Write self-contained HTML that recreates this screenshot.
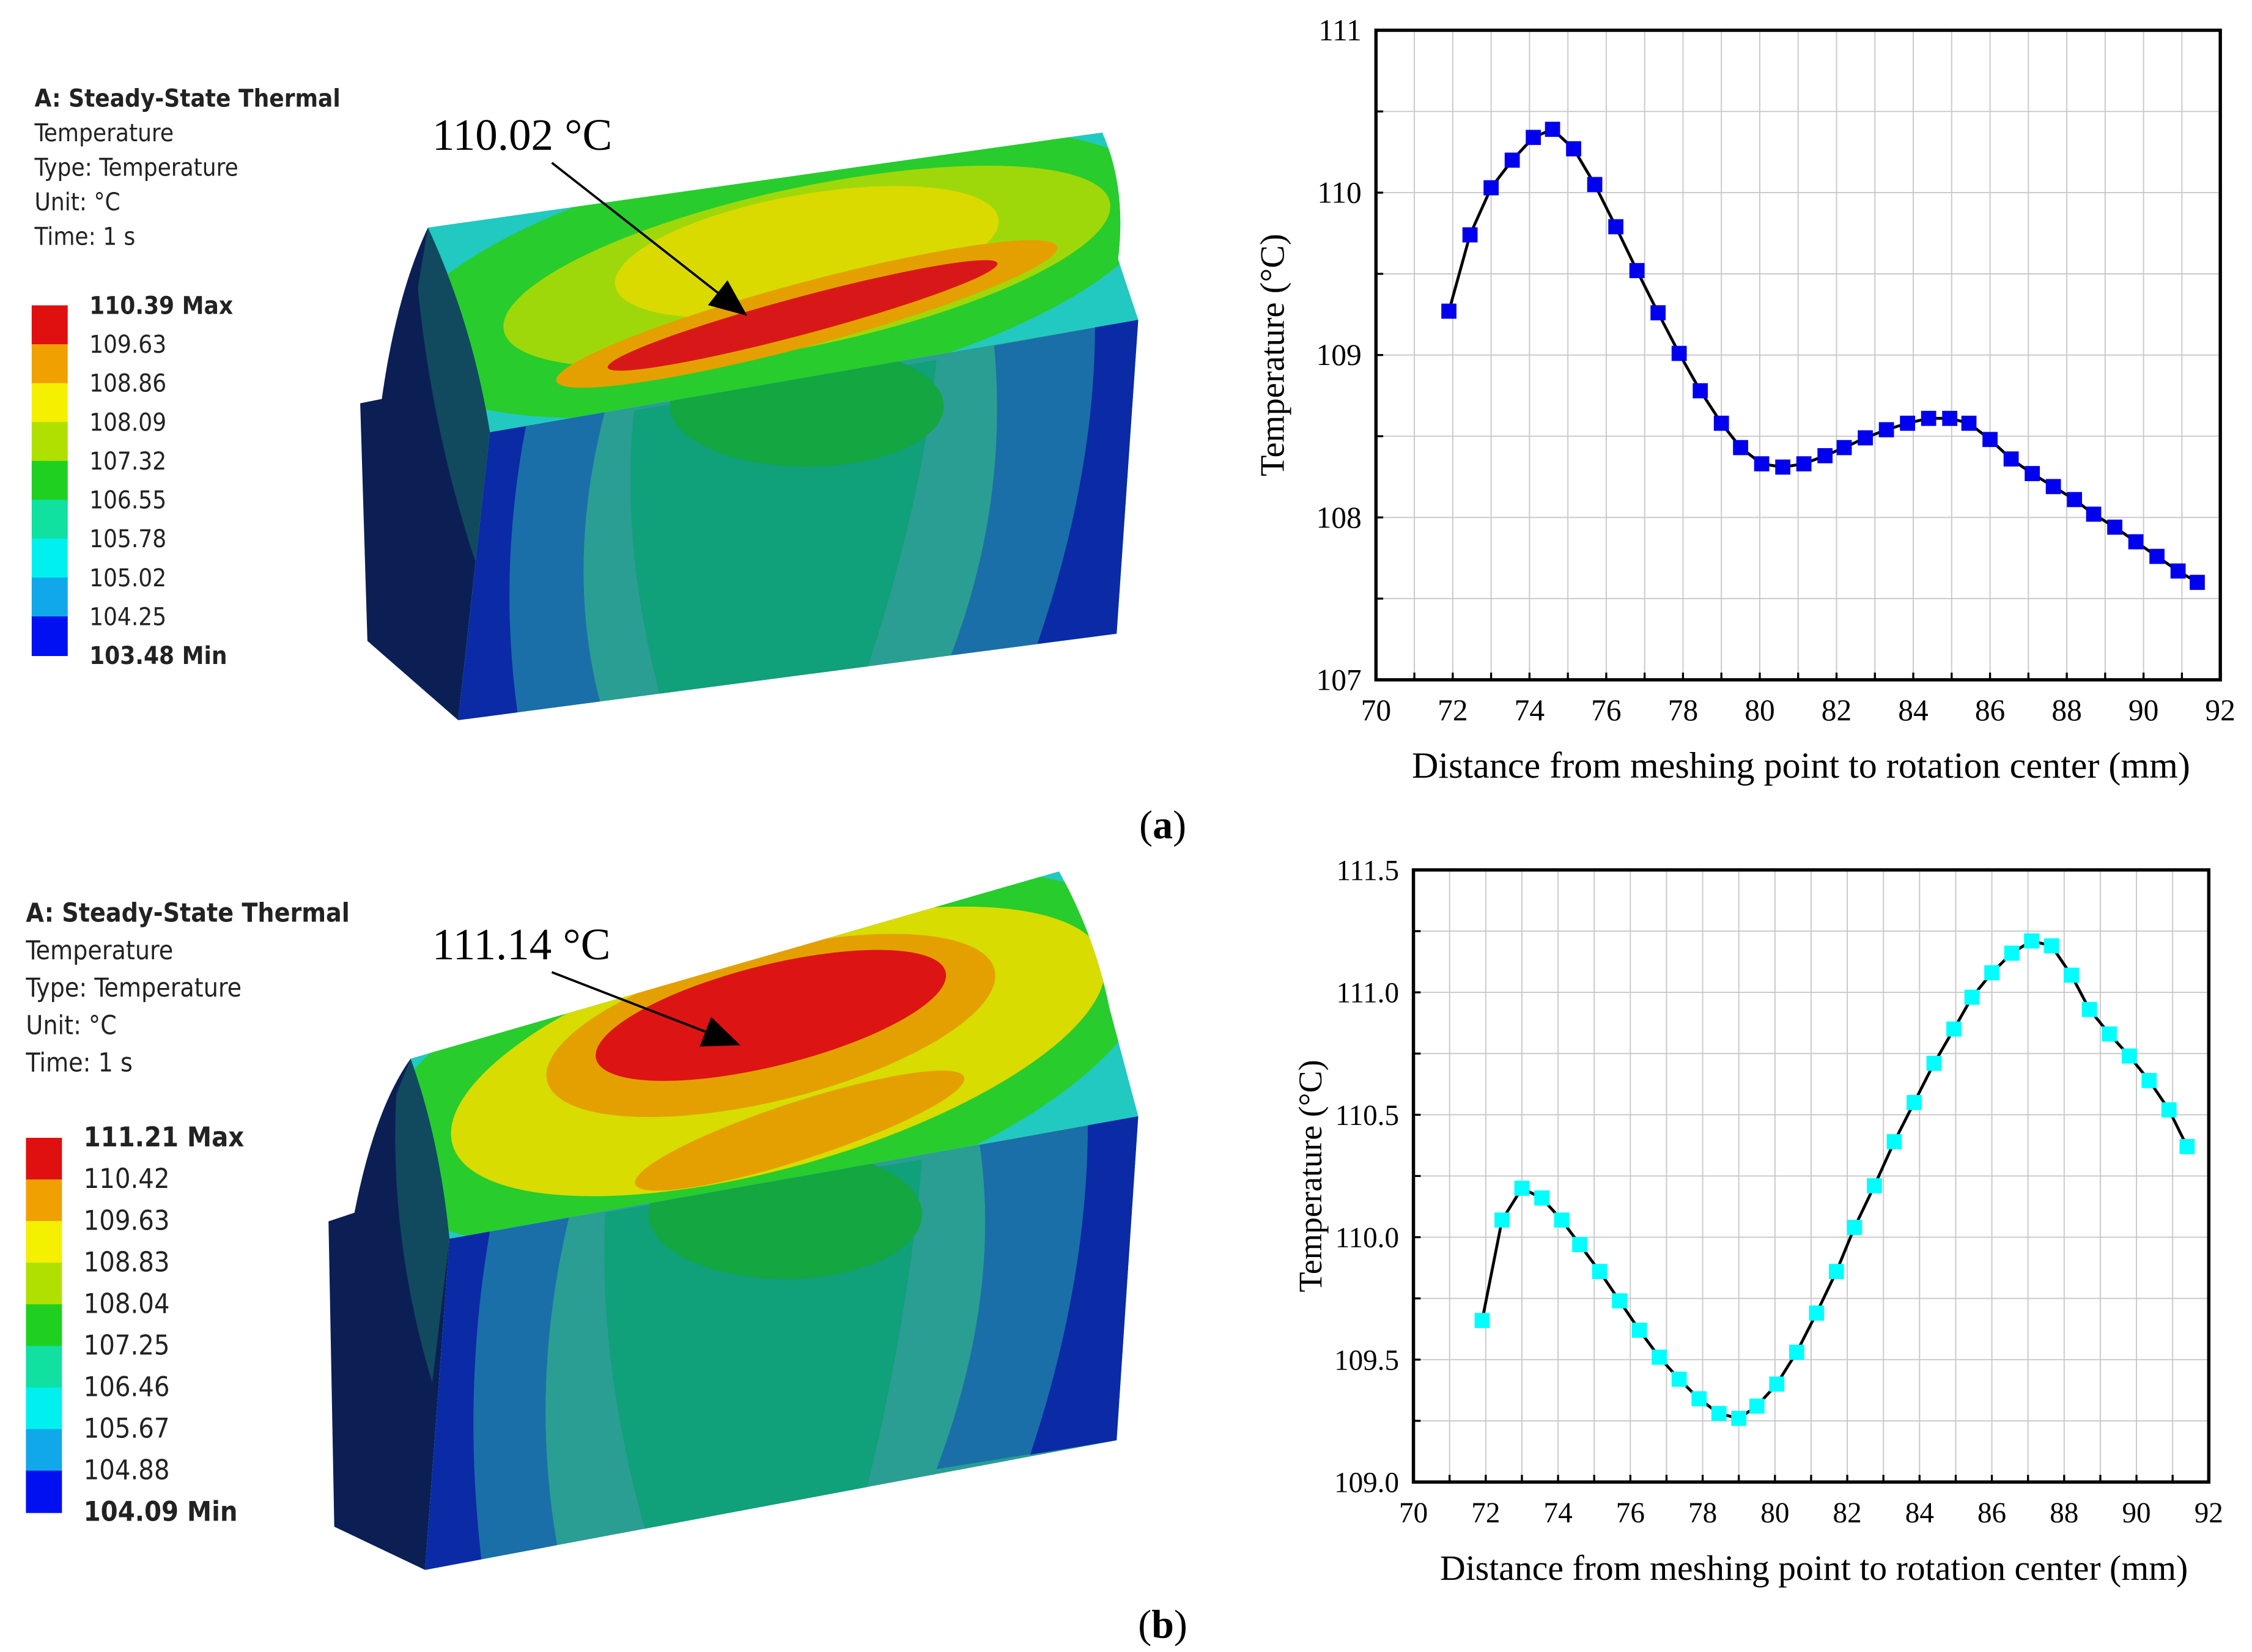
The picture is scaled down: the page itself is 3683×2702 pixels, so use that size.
<!DOCTYPE html>
<html><head><meta charset="utf-8"><style>
html,body{margin:0;padding:0;background:#fff}
svg{display:block}
text{font-family:"Liberation Serif",serif}
.ans{font-family:"DejaVu Sans Condensed","DejaVu Sans","Liberation Sans",sans-serif}
</style></head><body>
<svg id="root" xmlns="http://www.w3.org/2000/svg" width="3683" height="2702" viewBox="0 0 1563 1147" preserveAspectRatio="none">
<defs>
<marker id="ah2" markerWidth="26" markerHeight="22" refX="24" refY="11" orient="auto" markerUnits="userSpaceOnUse"><path d="M0,0 L26,11 L0,22 Z" fill="#000"/></marker>
<clipPath id="topA"><path d="M297,158 L765,92 Q782,130 776,180 L790,222 L340,300 Q328,225 297,158 Z"/></clipPath>
<clipPath id="frontA"><path d="M340,300 L790,222 L775,440 L318,500 Z"/></clipPath>
<clipPath id="topB"><path d="M285,735 L735,605 Q760,650 770,700 L790,775 L312,860 Q305,790 285,735 Z"/></clipPath>
<clipPath id="frontB"><path d="M312,860 L790,775 L775,1000 L295,1090 Z"/></clipPath>
</defs>

<g>
  <path d="M297,158 Q330,225 340,300 L318,500 L255,445 L250,280 L265,277 Q275,205 297,158 Z" fill="#0b1f55"/>
  <path d="M297,158 Q330,225 340,300 L330,390 Q300,300 290,200 Z" fill="#114a5e"/>
  <g clip-path="url(#frontA)">
    <rect x="300" y="200" width="500" height="320" fill="#2a9e93"/>
    <path d="M340,300 L420,285 Q390,400 420,500 L318,500 Z" fill="#1a6fa8"/>
    <path d="M340,300 L365,296 Q345,400 360,500 L318,500 Z" fill="#0b2aa6"/>
    <path d="M440,285 L650,250 Q640,350 600,470 L460,490 Q430,380 440,285 Z" fill="#10a07a"/>
    <path d="M690,240 L790,222 L775,440 L660,455 Q700,350 690,240 Z" fill="#1a6fa8"/>
    <path d="M760,226 L790,222 L775,440 L720,447 Q760,330 760,226 Z" fill="#0b2aa6"/>
    <ellipse cx="560" cy="282" rx="95" ry="42" fill="#14a640"/>
  </g>
  <g clip-path="url(#topA)">
    <rect x="290" y="80" width="510" height="230" fill="#22c9c0"/>
    <ellipse cx="540" cy="190" rx="270" ry="85" transform="rotate(-12 540 190)" fill="#28cc2c"/>
    <ellipse cx="560" cy="185" rx="215" ry="55" transform="rotate(-12 560 185)" fill="#9fd80a"/>
    <ellipse cx="560" cy="175" rx="135" ry="40" transform="rotate(-10 560 175)" fill="#dada00"/>
    <ellipse cx="560" cy="218" rx="180" ry="22" transform="rotate(-15 560 218)" fill="#e4a000"/>
    <ellipse cx="557" cy="219" rx="140" ry="13" transform="rotate(-15 557 219)" fill="#d81818"/>
    <path d="M340,300 L790,222 L790,245 L340,320 Z" fill="#20d0d8"/>
  </g>
</g>
<g>
  <text x="24" y="74" font-size="17" font-weight="bold" class="ans" fill="#222">A: Steady-State Thermal</text>
  <text x="24" y="98" font-size="17" class="ans" fill="#222">Temperature</text>
  <text x="24" y="122" font-size="17" class="ans" fill="#222">Type: Temperature</text>
  <text x="24" y="146" font-size="17" class="ans" fill="#222">Unit: °C</text>
  <text x="24" y="170" font-size="17" class="ans" fill="#222">Time: 1 s</text>
  <g id="cbA"></g>
</g>
<text x="300" y="104" font-size="31">110.02 °C</text>
<line x1="383" y1="113" x2="517" y2="218" stroke="#000" stroke-width="1.6" marker-end="url(#ah2)"/>

<g>
  <path d="M285,735 Q308,790 312,860 L295,1090 L232,1060 L228,848 L246,842 Q260,770 285,735 Z" fill="#0b1f55"/>
  <path d="M285,735 Q308,790 312,860 L300,960 Q270,860 275,760 Z" fill="#114a5e"/>
  <g clip-path="url(#frontB)">
    <rect x="280" y="760" width="520" height="340" fill="#2a9e93"/>
    <path d="M312,860 L395,845 Q365,970 390,1090 L295,1090 Z" fill="#1a6fa8"/>
    <path d="M312,860 L340,855 Q320,970 335,1090 L295,1090 Z" fill="#0b2aa6"/>
    <path d="M420,842 L640,805 Q630,920 600,1040 L450,1070 Q415,950 420,842 Z" fill="#10a07a"/>
    <path d="M680,795 L790,775 L775,1000 L650,1020 Q695,900 680,795 Z" fill="#1a6fa8"/>
    <path d="M755,780 L790,775 L775,1000 L715,1010 Q755,890 755,780 Z" fill="#0b2aa6"/>
    <ellipse cx="545" cy="843" rx="95" ry="45" fill="#14a640"/>
  </g>
  <g clip-path="url(#topB)">
    <rect x="280" y="590" width="520" height="280" fill="#22c9c0"/>
    <ellipse cx="530" cy="735" rx="280" ry="110" transform="rotate(-16 530 735)" fill="#28cc2c"/>
    <ellipse cx="540" cy="730" rx="235" ry="80" transform="rotate(-16 540 730)" fill="#d8dc00"/>
    <ellipse cx="535" cy="712" rx="160" ry="52" transform="rotate(-14 535 712)" fill="#e4a000"/>
    <ellipse cx="535" cy="705" rx="125" ry="35" transform="rotate(-14 535 705)" fill="#dc1414"/>
    <ellipse cx="555" cy="785" rx="120" ry="20" transform="rotate(-18 555 785)" fill="#e4a000"/>
    <path d="M312,860 L790,775 L790,800 L312,885 Z" fill="#20d0d8"/>
  </g>
</g>
<g>
  <text x="18" y="640" font-size="18" font-weight="bold" class="ans" fill="#222">A: Steady-State Thermal</text>
  <text x="18" y="666" font-size="18" class="ans" fill="#222">Temperature</text>
  <text x="18" y="692" font-size="18" class="ans" fill="#222">Type: Temperature</text>
  <text x="18" y="718" font-size="18" class="ans" fill="#222">Unit: °C</text>
  <text x="18" y="744" font-size="18" class="ans" fill="#222">Time: 1 s</text>
  <g id="cbB"></g>
</g>
<text x="300" y="666" font-size="31">111.14 °C</text>
<line x1="383" y1="675" x2="512" y2="725" stroke="#000" stroke-width="1.6" marker-end="url(#ah2)"/>

<text x="807" y="582" font-size="28" text-anchor="middle">(<tspan font-weight="bold">a</tspan>)</text>
<text x="807" y="1137" font-size="28" text-anchor="middle">(<tspan font-weight="bold">b</tspan>)</text>

<g id="chartA"></g>
<g id="chartB"></g>
</svg>
<script>
const NS = "http://www.w3.org/2000/svg";
const xValuesA = [71.9,72.45,73.0,73.55,74.1,74.6,75.15,75.7,76.25,76.8,77.35,77.9,78.45,79.0,79.5,80.05,80.6,81.15,81.7,82.2,82.75,83.3,83.85,84.4,84.95,85.45,86.0,86.55,87.1,87.65,88.2,88.7,89.25,89.8,90.35,90.9,91.4];
const tempA = [109.27,109.74,110.03,110.20,110.34,110.39,110.27,110.05,109.79,109.52,109.26,109.01,108.78,108.58,108.43,108.33,108.31,108.33,108.38,108.43,108.49,108.54,108.58,108.61,108.61,108.58,108.48,108.36,108.27,108.19,108.11,108.02,107.94,107.85,107.76,107.67,107.60];
const xValuesB = [71.9,72.45,73.0,73.55,74.1,74.6,75.15,75.7,76.25,76.8,77.35,77.9,78.45,79.0,79.5,80.05,80.6,81.15,81.7,82.2,82.75,83.3,83.85,84.4,84.95,85.45,86.0,86.55,87.1,87.65,88.2,88.7,89.25,89.8,90.35,90.9,91.4];
const tempB = [109.66,110.07,110.20,110.16,110.07,109.97,109.86,109.74,109.62,109.51,109.42,109.34,109.28,109.26,109.31,109.40,109.53,109.69,109.86,110.04,110.21,110.39,110.55,110.71,110.85,110.98,111.08,111.16,111.21,111.19,111.07,110.93,110.83,110.74,110.64,110.52,110.37];
const xTicks = [70,72,74,76,78,80,82,84,86,88,90,92];
const yTicksA = [107,108,109,110,111];
const yTickLabelsA = ["107","108","109","110","111"];
const yTicksB = [109.0,109.5,110.0,110.5,111.0,111.5];
const yTickLabelsB = ["109.0","109.5","110.0","110.5","111.0","111.5"];
const cbLabelsA = ["110.39 Max","109.63","108.86","108.09","107.32","106.55","105.78","105.02","104.25","103.48 Min"];
const cbLabelsB = ["111.21 Max","110.42","109.63","108.83","108.04","107.25","106.46","105.67","104.88","104.09 Min"];
const cbColors = ["#e01010","#f0a000","#f4f000","#b0e000","#20d020","#10e0a0","#00f0f0","#10a8e8","#0010f0"];

function el(tag, attrs, parent){const e=document.createElementNS(NS,tag);for(const k in attrs)e.setAttribute(k,attrs[k]);parent.appendChild(e);return e;}

function colorbar(id, x, y0, y1, labels, fs){
  const g=document.getElementById(id);
  const h=(y1-y0)/cbColors.length;
  cbColors.forEach((c,i)=>{
    const r=el('rect',{x:x,y:y0+i*h,width:25,height:h+0.5,fill:c},g);
    
    
  });
  labels.forEach((l,i)=>{
    const t=el('text',{x:x+40,y:y0+i*h+6,'font-size':fs,class:'ans',fill:'#222','font-weight':(i==0||i==labels.length-1)?'bold':'normal'},g);
    t.textContent=l;
    
    
  });
}
colorbar('cbA',22,212,455,cbLabelsA,17);
colorbar('cbB',18,790,1050,cbLabelsB,19);

function chart(id, box, xs, ys, yTicks, yLabels, ymin, ymax, color, fs){
  const g=document.getElementById(id);
  const sx=v=>box.l+(v-70)/(92-70)*(box.r-box.l);
  const sy=v=>box.b-(v-ymin)/(ymax-ymin)*(box.b-box.t);
  for(let v=70; v<=92; v+=1){
    const ln=el('line',{x1:sx(v),x2:sx(v),y1:box.t,y2:box.b,stroke:'#c8c8c8','stroke-width':0.8},g);
    
    
  }
  const half=(yTicks[1]-yTicks[0])/2;
  for(let v=ymin; v<=ymax+1e-9; v+=half){
    const ln=el('line',{x1:box.l,x2:box.r,y1:sy(v),y2:sy(v),stroke:'#c8c8c8','stroke-width':0.8},g);
    
    
    const tk=el('line',{x1:box.l,x2:box.l+5,y1:sy(v),y2:sy(v),stroke:'#000','stroke-width':1.4},g);
    
    
  }
  for(let v=70; v<=92; v+=1){
    const tk=el('line',{x1:sx(v),x2:sx(v),y1:box.b,y2:box.b-5,stroke:'#000','stroke-width':1.4},g);
    
    
  }
  const fr=el('rect',{x:box.l,y:box.t,width:box.r-box.l,height:box.b-box.t,fill:'none',stroke:'#000','stroke-width':2.3},g);
  
  
  xTicks.forEach(v=>{
    const t=el('text',{x:sx(v),y:box.b+28,'font-size':fs,'text-anchor':'middle'},g);
    t.textContent=v;
    
    
  });
  yTicks.forEach((v,i)=>{
    const t=el('text',{x:box.l-10,y:sy(v)+7,'font-size':fs,'text-anchor':'end'},g);
    t.textContent=yLabels[i];
    
    
  });
  const xt=el('text',{x:(box.l+box.r)/2+2,y:box.b+68,'font-size':fs+4.5,'text-anchor':'middle'},g);
  xt.textContent='Distance from meshing point to rotation center (mm)';
  
  
  const cy=(box.t+box.b)/2, cx=box.l-64;
  const yt=el('text',{x:cx,y:cy,'font-size':fs+3,'text-anchor':'middle',transform:`rotate(-90 ${cx} ${cy})`},g);
  yt.textContent='Temperature (°C)';
  
  
  const pts=xs.map((x,i)=>sx(x).toFixed(2)+','+sy(ys[i]).toFixed(2)).join(' ');
  const pl=el('polyline',{points:pts,fill:'none',stroke:'#000','stroke-width':2},g);
  
  
  xs.forEach((x,i)=>{
    const s=10.5;
    const r=el('rect',{x:sx(x)-s/2,y:sy(ys[i])-s/2,width:s,height:s,fill:color},g);
    
    
  });
}
chart('chartA',{l:955,r:1541,t:21,b:472},xValuesA,tempA,yTicksA,yTickLabelsA,107,111,'#0000ee',21);
chart('chartB',{l:981,r:1533,t:604,b:1029},xValuesB,tempB,yTicksB,yTickLabelsB,109.0,111.5,'#00ffff',20);
</script>
</body></html>
